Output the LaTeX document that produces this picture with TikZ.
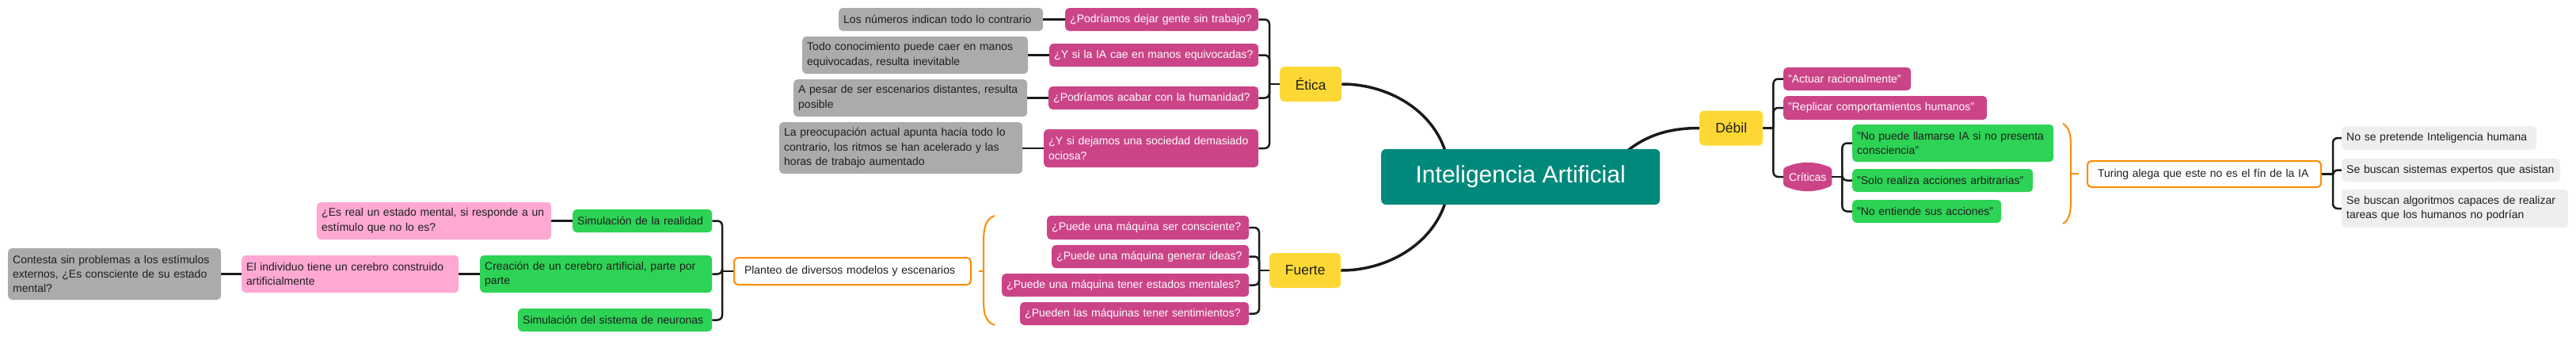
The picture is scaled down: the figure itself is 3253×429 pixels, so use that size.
\documentclass[tikz,border=0pt]{standalone}
\usepackage{fontspec}
\setmainfont{Liberation Sans}
\usepackage{tikz}
\usetikzlibrary{positioning}
\usetikzlibrary{backgrounds}
\usetikzlibrary{calc}
\definecolor{topicteal}{HTML}{00897B}
\definecolor{mainyellow}{HTML}{FDD835}
\definecolor{qpink}{HTML}{CC4488}
\definecolor{softpink}{HTML}{FFA8D4}
\definecolor{notegray}{HTML}{ABABAB}
\definecolor{palegray}{HTML}{EEEEEE}
\definecolor{leafgreen}{HTML}{2DD355}
\definecolor{sumorange}{HTML}{FF8C00}
\definecolor{inkdark}{HTML}{1E1E1E}
\definecolor{linedark}{HTML}{1A1A1A}
\tikzset{mapbox/.style = {rounded corners = 5pt, inner xsep = 6pt, inner ysep = 0pt, anchor = west,
                          align = left, minimum height = 29pt, text = inkdark,
                          font = \fontsize{14}{18.3}\selectfont}}
\tikzset{qbox/.style = {mapbox, fill = qpink, text = white}}
\tikzset{notebox/.style = {mapbox, fill = notegray}}
\tikzset{leafbox/.style = {mapbox, fill = leafgreen}}
\tikzset{softbox/.style = {mapbox, fill = softpink}}
\tikzset{palebox/.style = {mapbox, fill = palegray}}
\tikzset{sumbox/.style = {mapbox, draw = sumorange, line width = 2pt, fill = white, inner xsep = 13pt,
                          minimum height = 33pt}}
\tikzset{headbox/.style = {rounded corners = 6pt, fill = mainyellow, text = inkdark, anchor = west,
                           align = center, minimum height = 44pt, font = \fontsize{17.5}{20}\selectfont}}
\tikzset{branch/.style = {draw = linedark, line width = 2.5pt, rounded corners = 6pt}}
\tikzset{trunk/.style = {draw = linedark, line width = 3.5pt}}
\tikzset{summ/.style = {draw = sumorange, line width = 2pt}}

\begin{document}
\begin{tikzpicture}[x = 1pt, y = -1pt]
      \useasboundingbox (0, 0) rectangle (3253, 429);

      \node [fill = topicteal, text = white, rounded corners = 6pt, anchor = west, minimum width = 352pt,
             minimum height = 70pt, font = \fontsize{30}{34}\selectfont] (ia) at (1744, 223) {Inteligencia Artificial};

      \node [headbox, minimum width = 78pt] (etica) at (1616, 106) {Ética};
      \node [headbox, minimum width = 80pt] (debil) at (2146, 161.5) {Débil};
      \node [headbox, minimum width = 90pt] (fuerte) at (1603, 341) {Fuerte};

      \node [notebox, text width = 246pt] (na1) at (1059, 24.5) {Los números indican todo lo contrario};
      \node [qbox, text width = 232pt] (qa1) at (1345, 24.5) {¿Podríamos dejar gente sin trabajo?};
      \node [notebox, text width = 273pt, minimum height = 47pt] (na2) at (1013, 69.5) {Todo conocimiento puede caer en manos equivocadas, resulta inevitable};
      \node [qbox, text width = 252pt] (qa2) at (1325, 69.5) {¿Y si la IA cae en manos equivocadas?};
      \node [notebox, text width = 283pt, minimum height = 47pt] (na3) at (1002, 123.5) {A pesar de ser escenarios distantes, resulta posible};
      \node [qbox, text width = 253pt] (qa3) at (1324, 123.5) {¿Podríamos acabar con la humanidad?};
      \node [notebox, text width = 295pt, minimum height = 65pt] (na4) at (984, 186.5) {La preocupación actual apunta hacia todo lo contrario, los ritmos se han acelerado y las horas de trabajo aumentado};
      \node [qbox, text width = 259pt, minimum height = 48pt] (qa4) at (1318, 187) {¿Y si dejamos una sociedad demasiado ociosa?};

      \node [qbox, text width = 243pt, minimum height = 30pt] (qb1) at (1322, 287) {¿Puede una máquina ser consciente?};
      \node [qbox, text width = 237pt] (qb2) at (1328, 323.5) {¿Puede una máquina generar ideas?};
      \node [qbox, text width = 300pt] (qb3) at (1265, 359.5) {¿Puede una máquina tener estados mentales?};
      \node [qbox, text width = 277pt] (qb4) at (1288, 395.5) {¿Pueden las máquinas tener sentimientos?};
      \node [sumbox, text width = 273pt, minimum height = 34pt] (planteo) at (926, 342) {Planteo de diversos modelos y escenarios};
      \node [leafbox, text width = 164pt] (gr1) at (723, 278.5) {Simulación de la realidad};
      \node [leafbox, text width = 281pt, minimum height = 47pt] (gr2) at (606, 345.5) {Creación de un cerebro artificial, parte por parte};
      \node [leafbox, text width = 233pt] (gr3) at (654, 403.5) {Simulación del sistema de neuronas};
      \node [softbox, text width = 284pt, minimum height = 47pt] (pl1) at (400, 278.5) {¿Es real un estado mental, si responde a un estímulo que no lo es?};
      \node [softbox, text width = 262pt, minimum height = 47pt] (pl2) at (305, 345.5) {El individuo tiene un cerebro construido artificialmente};
      \node [notebox, text width = 257pt, minimum height = 65pt] (gb1) at (10, 345.5) {Contesta sin problemas a los estímulos externos, ¿Es consciente de su estado mental?};

      \node [qbox, text width = 149pt] (qc1) at (2252, 99.5) {"Actuar racionalmente"};
      \node [qbox, text width = 245pt, minimum height = 30pt] (qc2) at (2252, 136) {"Replicar comportamientos humanos"};
      \node [anchor = west, text = white, minimum width = 61pt, minimum height = 22pt, inner sep = 0pt,
             font = \fontsize{14}{18}\selectfont] (crit) at (2252, 223) {Críticas};
      \node [leafbox, text width = 242pt, minimum height = 47pt] (gc1) at (2339, 180.5) {"No puede llamarse IA si no presenta consciencia"};
      \node [leafbox, text width = 216pt] (gc2) at (2339, 227.5) {"Solo realiza acciones arbitrarias"};
      \node [leafbox, text width = 176pt] (gc3) at (2339, 266.5) {"No entiende sus acciones"};
      \node [sumbox, text width = 269pt] (turing) at (2635, 219.5) {Turing alega que este no es el fín de la IA};
      \node [palebox, text width = 234pt, minimum height = 30pt] (lg1) at (2957, 174) {No se pretende Inteligencia humana};
      \node [palebox, text width = 264pt] (lg2) at (2957, 214.5) {Se buscan sistemas expertos que asistan};
      \node [palebox, text width = 274pt, minimum height = 48pt] (lg3) at (2957, 263) {Se buscan algoritmos capaces de realizar tareas que los humanos no podrían};

      \begin{scope}[on background layer]
        \coordinate (iahubl) at (1830, 223);
        \coordinate (iahubr) at (2030, 215);
        \draw [trunk] (etica.east) to [out = 0, in = 90] (iahubl);
        \draw [trunk] (fuerte.east) to [out = 0, in = -90] (iahubl);
        \draw [trunk] (debil.west) to [out = 180, in = 50] (iahubr);

        \coordinate (ebar) at ([xshift = -13pt] etica.west);
        \draw [branch] (etica.west) -- (ebar);
        \foreach \q in {qa1, qa2, qa3, qa4}
          \draw [branch] (ebar) |- (\q.east);
        \foreach \q/\n in {qa1/na1, qa2/na2, qa3/na3, qa4/na4}
          \draw [branch] (\q.west) -- (\q.west -| \n.east);

        \coordinate (fbar) at ([xshift = -13pt] fuerte.west);
        \draw [branch] (fuerte.west) -- (fbar);
        \foreach \q in {qb1, qb2, qb3, qb4}
          \draw [branch] (fbar) |- (\q.east);
        \coordinate (fsum) at (1242, 342);
        \draw [summ] (1256, 272) .. controls (1244, 276) and (1242, 290) .. (1242, 305) -- (1242, 379)
          .. controls (1242, 394) and (1244, 406) .. (1256, 410);
        \draw [summ] (fsum) -- ([xshift = 9pt] planteo.east);

        \coordinate (pbar) at ([xshift = -14pt] planteo.west);
        \draw [branch] (planteo.west) -- (pbar);
        \foreach \g in {gr1, gr2, gr3}
          \draw [branch] (pbar) |- (\g.east);
        \draw [branch] (gr1.west) -- (gr1.west -| pl1.east);
        \draw [branch] (gr2.west) -- (gr2.west -| pl2.east);
        \draw [branch] (pl2.west) -- (pl2.west -| gb1.east);

        \coordinate (dbar) at ([xshift = 13pt] debil.east);
        \draw [branch] (debil.east) -- (dbar);
        \foreach \c in {qc1, qc2, crit}
          \draw [branch] (dbar) |- (\c.west);
        \fill [qpink, rounded corners = 3pt] (crit.north west) to [bend left = 22] (crit.north east) -- (crit.south east)
          to [bend left = 22] (crit.south west) -- cycle;

        \coordinate (cbar) at ([xshift = 13pt] crit.east);
        \draw [branch] (crit.east) -- (cbar);
        \foreach \g in {gc1, gc2, gc3}
          \draw [branch] (cbar) |- (\g.west);
        \coordinate (dsum) at (2615, 219);
        \draw [summ] (2605, 156) .. controls (2613, 160) and (2615, 170) .. (2615, 185) -- (2615, 253)
          .. controls (2615, 268) and (2613, 278) .. (2605, 282);
        \draw [summ] (dsum) -- ([xshift = -10pt] turing.west);

        \coordinate (tbar) at ([xshift = 14pt] turing.east);
        \draw [branch] (turing.east) -- (tbar);
        \foreach \l in {lg1, lg2, lg3}
          \draw [branch] (tbar) |- (\l.west);
      \end{scope}
\end{tikzpicture}
\end{document}
